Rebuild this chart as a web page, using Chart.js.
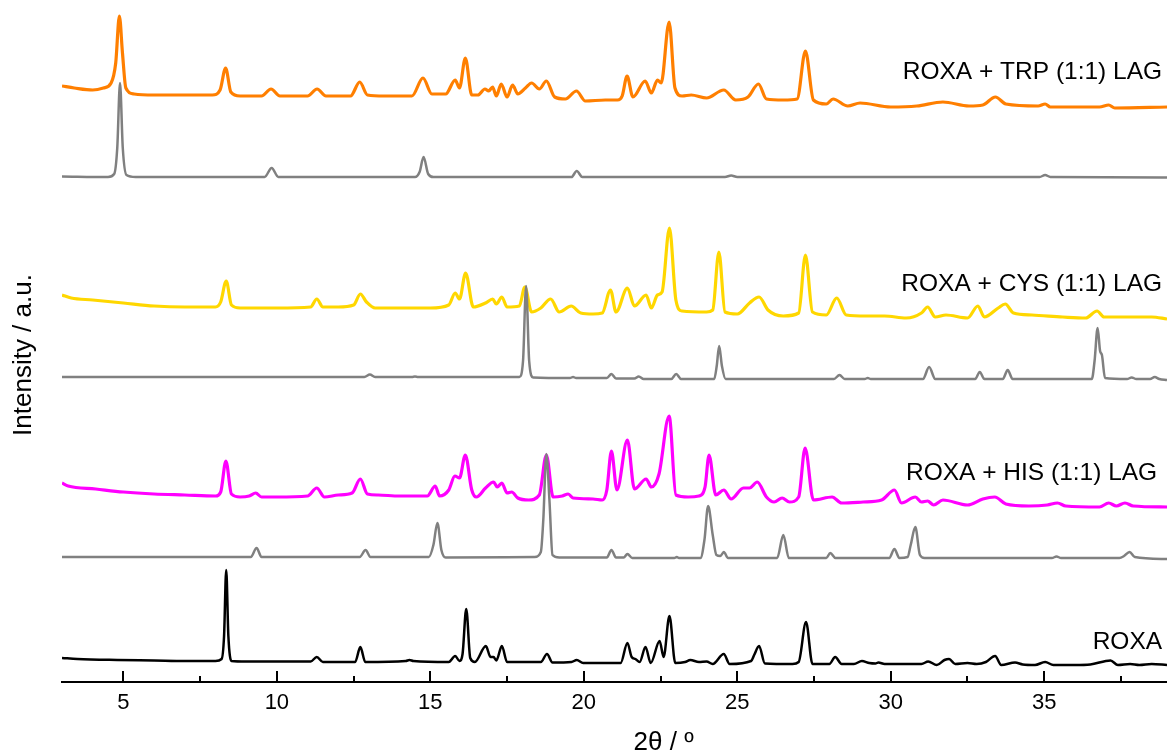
<!DOCTYPE html>
<html>
<head>
<meta charset="utf-8">
<script src="https://cdn.jsdelivr.net/npm/chart.js@4.4.0/dist/chart.umd.min.js"></script>
<style>
  body { margin: 0; background: #fff; }
  #wrap { width: 1167px; height: 756px; }
</style>
</head>
<body>
<div id="wrap"><canvas id="xrd" width="1167" height="756"></canvas></div>
<script>
// powder patterns: [2theta, intensity] pairs read per trace, intensity in a.u.
const roxa = [[3.0,8],[3.5,7],[4.8,6],[6.0,5.5],[7.0,5],[8.0,5],[8.2,7],[8.28,30],[8.35,96],[8.42,30],[8.52,5],[9.0,4.5],[11.1,4.5],[11.3,9],[11.5,4],[12.55,4],[12.72,19],[12.88,4],[14.2,5],[14.32,6],[14.45,5],[15.6,4],[15.81,10],[15.95,5],[16.05,12],[16.17,57],[16.3,8],[16.45,4],[16.81,20],[16.96,9],[17.06,9],[17.15,5.5],[17.33,20],[17.5,4],[18.6,4],[18.8,12],[18.98,3.5],[19.6,4],[19.77,6],[19.98,3],[21.2,3],[21.42,23],[21.56,9],[21.68,7],[21.82,4],[22.01,19],[22.18,3],[22.47,25],[22.6,9],[22.79,50],[22.98,3],[23.3,4],[23.47,6],[23.75,4],[24.0,4.5],[24.2,2],[24.56,12],[24.75,2],[25.45,5],[25.55,11],[25.71,20],[25.9,2.5],[26.8,2],[27.0,4],[27.24,44],[27.45,2],[28.0,2],[28.19,9],[28.4,2],[28.8,2],[29.06,5],[29.3,3],[29.5,2.5],[29.6,3.5],[29.8,2],[31.0,2],[31.22,4.5],[31.5,1],[31.75,6],[31.9,7],[32.1,2],[32.5,3],[32.8,2],[33.1,4],[33.4,10],[33.6,1],[34.05,3.5],[34.3,1.5],[34.7,1],[35.03,4],[35.3,1],[36.0,1],[36.5,1.5],[37.16,5.5],[37.4,1],[37.8,2],[38.1,1],[38.5,2],[39.0,1]];

const hisRef = [[3.0,3],[9.15,3],[9.34,12],[9.5,3],[12.7,3],[12.89,10],[13.05,3],[14.95,3],[15.1,15],[15.23,37],[15.36,10],[15.5,2.5],[18.4,3],[18.6,8],[18.68,40],[18.78,106],[18.88,60],[18.98,5],[19.2,2.5],[20.75,2.5],[20.9,10],[21.05,2.5],[21.3,2.5],[21.42,6],[21.58,2],[22.95,2],[23.03,3],[23.1,2],[23.8,2],[23.93,20],[24.05,54],[24.2,25],[24.32,5],[24.45,4],[24.56,8],[24.7,2],[26.3,2],[26.5,25],[26.68,2],[27.9,2],[28.03,7],[28.2,2],[29.95,2],[30.12,11],[30.28,2],[30.55,3],[30.65,15],[30.8,33],[30.95,5],[31.1,2],[35.25,2],[35.4,3.5],[35.55,2],[37.45,2],[37.6,4],[37.78,8],[37.95,3],[39.0,1]];

const his = [[3.0,19],[3.2,16],[4.1,13],[5.0,10],[6.0,8],[7.0,7],[8.0,6],[8.17,10],[8.34,41],[8.52,8],[8.8,5],[9.1,6],[9.31,9],[9.5,5],[10.0,5],[11.0,6],[11.3,14],[11.55,5],[12.0,7],[12.45,9],[12.72,23],[12.95,8],[13.3,7],[14.0,6],[14.9,6],[15.16,16],[15.3,6],[15.6,12],[15.8,26],[15.95,24],[16.14,47],[16.35,12],[16.5,5],[16.8,14],[17.06,20],[17.18,15],[17.33,19],[17.5,9],[17.65,10],[17.85,4],[18.2,2],[18.55,7],[18.78,47],[19.0,5],[19.3,6],[19.49,8],[19.65,4],[20.3,3],[20.6,2],[20.75,12],[20.9,51],[21.08,12],[21.42,62],[21.65,13],[22.03,23],[22.2,15],[22.45,28],[22.78,86],[23.0,7],[23.4,5],[23.75,6],[23.95,15],[24.08,47],[24.3,7],[24.56,12],[24.8,3],[25.2,14],[25.4,14],[25.65,20],[25.95,5],[26.2,0],[26.46,4],[26.7,0],[27.0,5],[27.21,54],[27.48,2],[28.09,5],[28.4,-1],[29.1,0],[29.7,2],[30.12,12],[30.35,-1],[30.8,5],[31.0,0],[31.2,1],[31.4,-3],[31.7,2],[32.5,-3],[33.0,3],[33.39,5],[33.75,-2],[34.5,-4],[35.1,-3],[35.43,-1],[35.7,-4],[36.8,-5],[37.1,-1],[37.35,-4],[37.63,-1],[37.9,-4],[39.0,-5]];

const cysRef = [[3.0,4],[12.85,4],[13.03,6.5],[13.2,4],[14.4,4],[14.5,4.5],[14.6,4],[17.9,4],[18.02,20],[18.12,95],[18.22,20],[18.35,3.5],[19.55,3],[19.65,4],[19.75,3],[20.75,3],[20.9,7],[21.05,2.5],[21.65,2.5],[21.79,4.5],[21.95,2],[22.85,2],[23.01,7],[23.17,2],[24.25,2],[24.33,15],[24.41,35],[24.5,15],[24.62,2],[28.15,2],[28.33,6],[28.5,2],[29.15,2],[29.25,3],[29.35,2],[31.05,2],[31.25,14],[31.45,2],[32.75,2],[32.9,9],[33.05,2],[33.65,2],[33.81,11],[33.97,2],[36.55,2],[36.64,20],[36.74,53],[36.82,30],[36.88,26],[36.98,3],[37.7,2],[37.85,3.5],[38.0,2],[38.45,2],[38.6,4],[38.75,2],[39.0,1]];

const cys = [[3.0,25],[3.3,22],[4.0,20],[5.0,17],[6.0,14],[7.0,13],[8.0,13],[8.17,18],[8.35,39],[8.52,15],[8.8,12],[10.0,12],[11.1,13],[11.3,21],[11.5,13],[12.0,13],[12.5,15],[12.72,26],[12.92,18],[13.2,12],[14.0,12],[15.0,12],[15.6,15],[15.81,27],[15.95,21],[16.15,47],[16.4,13],[16.8,17],[17.03,21],[17.15,16],[17.33,23],[17.5,13],[17.9,14],[18.08,33],[18.3,8],[18.6,12],[18.92,21],[19.2,8],[19.59,14],[19.9,7],[20.3,6],[20.6,7],[20.87,30],[21.05,8],[21.42,32],[21.65,14],[22.03,25],[22.2,12],[22.4,25],[22.55,28],[22.79,92],[23.0,20],[23.2,9],[24.0,8],[24.2,10],[24.4,68],[24.6,8],[25.0,6],[25.4,17],[25.71,23],[26.0,10],[26.5,4],[27.0,7],[27.22,65],[27.45,8],[27.9,5],[28.24,22],[28.55,5],[29.2,4],[29.8,4],[30.5,2],[31.0,7],[31.2,13],[31.45,3],[31.8,5],[32.5,2],[32.84,14],[33.05,3],[33.5,12],[33.73,16],[34.0,7],[34.6,5],[35.6,3],[36.35,2],[36.72,9],[36.95,3],[37.75,3],[38.5,3],[39.0,1]];

const trpRef = [[3.0,1.5],[4.5,1],[4.7,4],[4.8,30],[4.89,95],[4.98,30],[5.1,3],[5.4,1],[9.6,1],[9.83,10],[10.05,1],[14.5,1],[14.65,6],[14.78,21],[14.93,4],[15.1,1],[19.6,1],[19.77,7],[19.95,1],[24.6,1],[24.8,2.5],[25.0,1],[34.85,1],[35.03,3],[35.2,1],[39.0,0.5]];

const trp = [[3.0,22],[3.4,20],[4.0,18],[4.35,20],[4.6,25],[4.75,45],[4.87,92],[4.97,55],[5.08,20],[5.35,14],[6.0,13],[7.0,13],[7.9,13],[8.15,18],[8.33,40],[8.5,16],[8.8,12],[9.5,12],[9.81,19],[10.1,12],[11.0,12],[11.31,19],[11.6,12],[12.4,12],[12.7,26],[12.95,13],[13.5,12],[14.4,12],[14.76,30],[15.05,14],[15.5,14],[15.81,28],[15.95,20],[16.14,50],[16.35,13],[16.55,13],[16.78,19],[16.9,17],[17.03,21],[17.15,12],[17.31,24],[17.5,11],[17.68,23],[17.85,14],[18.1,20],[18.3,25],[18.55,19],[18.78,27],[19.05,11],[19.4,9],[19.76,17],[20.05,7],[20.7,8],[21.1,8],[21.25,12],[21.41,32],[21.6,11],[22.0,27],[22.2,15],[22.4,28],[22.52,25],[22.78,86],[22.97,20],[23.2,12],[23.5,13],[24.0,10],[24.56,18],[24.95,8],[25.35,11],[25.69,24],[25.95,9],[26.5,8],[26.95,9],[27.22,57],[27.48,8],[27.9,4],[28.12,9],[28.6,2],[29.0,5],[30.0,1],[30.85,2],[31.7,6],[32.55,2],[33.0,3],[33.41,11],[33.75,4],[34.8,2],[35.03,4],[35.2,1],[36.8,1],[37.1,3],[37.3,0],[39.0,1]];

// vertical stacking offsets, bottom to top
const offsets = { roxa: 16, hisRef: 122, his: 180, cysRef: 301, cys: 362, trpRef: 504, trp: 574 };

const majorTicks = [5, 10, 15, 20, 25, 30, 35];
const minorTicks = [7.5, 12.5, 17.5, 22.5, 27.5, 32.5, 37.5];

const traceLabels = ['ROXA + TRP (1:1) LAG', 'ROXA + CYS (1:1) LAG', 'ROXA + HIS (1:1) LAG', 'ROXA'];
const labelAt = [[38.84, 610], [38.84, 398], [38.68, 209], [38.84, 40]];

const FONT = '"Liberation Sans", Arial, Helvetica, sans-serif';

function toPoints(arr, off) {
  return arr.map(p => ({ x: p[0], y: p[1] + off }));
}

function trace(data, off, color, width, order) {
  return {
    data: toPoints(data, off),
    borderColor: color,
    borderWidth: width,
    pointRadius: 0,
    showLine: true,
    cubicInterpolationMode: 'monotone',
    order: order
  };
}

// inward tick marks on the 2theta axis plus the text annotations
const decorations = {
  id: 'decorations',
  afterDatasetsDraw(chart) {
    const ctx = chart.ctx;
    const xs = chart.scales.x;
    const ys = chart.scales.y;
    const bottom = chart.chartArea.bottom;
    ctx.save();
    ctx.strokeStyle = '#000';
    ctx.lineWidth = 2;
    majorTicks.forEach(v => {
      const px = Math.round(xs.getPixelForValue(v));
      ctx.beginPath(); ctx.moveTo(px, bottom); ctx.lineTo(px, bottom - 11); ctx.stroke();
    });
    minorTicks.forEach(v => {
      const px = Math.round(xs.getPixelForValue(v));
      ctx.beginPath(); ctx.moveTo(px, bottom); ctx.lineTo(px, bottom - 6); ctx.stroke();
    });

    ctx.fillStyle = '#000';
    ctx.font = '24.5px ' + FONT;
    ctx.textAlign = 'right';
    ctx.textBaseline = 'middle';
    traceLabels.forEach((t, i) => {
      ctx.fillText(t, xs.getPixelForValue(labelAt[i][0]), ys.getPixelForValue(labelAt[i][1]));
    });

    // axis titles
    ctx.font = '26px ' + FONT;
    ctx.textAlign = 'center';
    ctx.fillText('2\u03B8 / \u00BA', xs.getPixelForValue(22.6), 743);
    ctx.translate(24, 355);
    ctx.rotate(-Math.PI / 2);
    ctx.fillText('Intensity / a.u.', 0, 0);
    ctx.restore();
  }
};

new Chart(document.getElementById('xrd'), {
  type: 'scatter',
  data: {
    datasets: [
      trace(trp, offsets.trp, '#ff7f00', 3.2, 5),
      trace(trpRef, offsets.trpRef, '#808080', 2.5, 1),
      trace(cys, offsets.cys, '#ffd700', 3.2, 5),
      trace(cysRef, offsets.cysRef, '#808080', 2.5, 1),
      trace(his, offsets.his, '#ff00ff', 3.2, 5),
      trace(hisRef, offsets.hisRef, '#808080', 2.5, 1),
      trace(roxa, offsets.roxa, '#000000', 2.5, 1)
    ]
  },
  options: {
    responsive: false,
    animation: false,
    layout: { padding: 0 },
    plugins: { legend: { display: false }, tooltip: { enabled: false } },
    scales: {
      x: {
        type: 'linear',
        min: 3,
        max: 39,
        afterFit: s => { s.height = 74; },
        afterBuildTicks: s => { s.ticks = majorTicks.map(v => ({ value: v })); },
        grid: { display: false, drawTicks: false },
        border: { display: true, color: '#000', width: 2 },
        ticks: { color: '#000', padding: 8, font: { family: FONT, size: 22 } }
      },
      y: {
        min: 0,
        max: 682,
        afterFit: s => { s.width = 62; },
        grid: { display: false, drawTicks: false },
        border: { display: false },
        ticks: { display: false }
      }
    }
  },
  plugins: [decorations]
});
</script>
</body>
</html>
